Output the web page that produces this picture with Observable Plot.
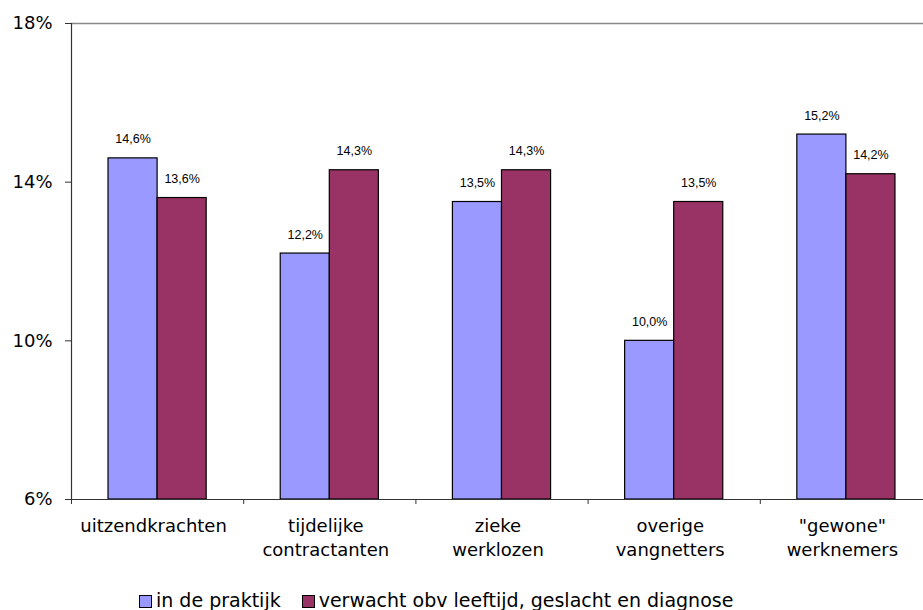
<!DOCTYPE html>
<html>
<head>
<meta charset="utf-8">
<script src="https://cdn.jsdelivr.net/npm/d3@7"></script>
<script src="https://cdn.jsdelivr.net/npm/@observablehq/plot@0.6"></script>
<style>
  html, body { margin: 0; padding: 0; background: #fff; overflow: hidden; }
  #wrap { position: relative; width: 923px; height: 610px; overflow: hidden; }
  #chart svg { max-width: none !important; }
  #legend { position: absolute; left: 139px; top: 590px; display: flex; align-items: center;
    font-family: "DejaVu Sans", sans-serif; font-size: 19px; line-height: 20px; color: #000; white-space: nowrap; }
  #legend .item { display: flex; align-items: center; margin-right: 21px; }
  #legend .sw { width: 11px; height: 11px; border: 1px solid #000; margin-right: 4px; margin-top: 3px; }
</style>
</head>
<body>
<div id="wrap">
  <div id="chart"></div>
  <div id="legend"></div>
</div>
<script>
const categories = ["uitzendkrachten", "tijdelijke\ncontractanten", "zieke\nwerklozen", "overige\nvangnetters", "\"gewone\"\nwerknemers"];
const series = ["in de praktijk", "verwacht obv leeftijd, geslacht en diagnose"];
const praktijk = [14.6, 12.2, 13.5, 10.0, 15.2];
const verwacht = [13.6, 14.3, 14.3, 13.5, 14.2];
const yTicks = [6, 10, 14, 18];
const colors = ["#9999FF", "#993366"];

const pad = 0.215, bw = 0.285;
const rows = [];
categories.forEach((c, i) => {
  [praktijk, verwacht].forEach((vals, s) => {
    rows.push({i, s, series: series[s], value: vals[i], x1: i + pad + s * bw, x2: i + pad + (s + 1) * bw});
  });
});
const fmt = d => d.value.toFixed(1).replace(".", ",") + "%";

const chart = Plot.plot({
  width: 933,
  height: 590,
  marginTop: 23,
  marginBottom: 91,
  marginLeft: 71,
  marginRight: 1,
  x: {domain: [0, categories.length], axis: null},
  y: {domain: [yTicks[0], yTicks[yTicks.length - 1]], axis: null},
  color: {domain: series, range: colors},
  style: {fontFamily: "DejaVu Sans, sans-serif", fontSize: "18px", color: "#000", background: "white", overflow: "visible", maxWidth: "none"},
  marks: [
    Plot.ruleY([yTicks[yTicks.length - 1]], {stroke: "#888", strokeWidth: 1.5}),
    Plot.rect(rows, {x1: "x1", x2: "x2", y1: yTicks[0], y2: "value", fill: "series", stroke: "#000", strokeWidth: 1.2}),
    Plot.text(rows, {x: d => (d.x1 + d.x2) / 2, y: "value", text: fmt, dy: -19, fontFamily: "Liberation Sans, Arial, sans-serif", fontSize: 12.5, fill: "#000"}),
    Plot.ruleX([0], {stroke: "#333", strokeWidth: 1.2}),
    Plot.ruleY([yTicks[0]], {stroke: "#333", strokeWidth: 1.2}),
    Plot.axisY(yTicks, {tickSize: 6, tickPadding: 13, tickFormat: d => d + "%", stroke: "#333", fill: "#000", label: null}),
    Plot.axisX(d3.range(categories.length + 1), {tickSize: 5, tickFormat: () => "", stroke: "#333", label: null}),
    Plot.axisX(categories.map((c, i) => i + 0.5), {tickSize: 0, tickPadding: 15.5, tickFormat: d => categories[Math.floor(d)], lineHeight: 1.33, dx: -4, fill: "#000", label: null})
  ]
});
document.getElementById("chart").appendChild(chart);

const legend = document.getElementById("legend");
series.forEach((s, k) => {
  const item = document.createElement("div");
  item.className = "item";
  const sw = document.createElement("span");
  sw.className = "sw";
  sw.style.background = colors[k];
  const t = document.createElement("span");
  t.textContent = s;
  item.appendChild(sw);
  item.appendChild(t);
  legend.appendChild(item);
});
</script>
</body>
</html>
